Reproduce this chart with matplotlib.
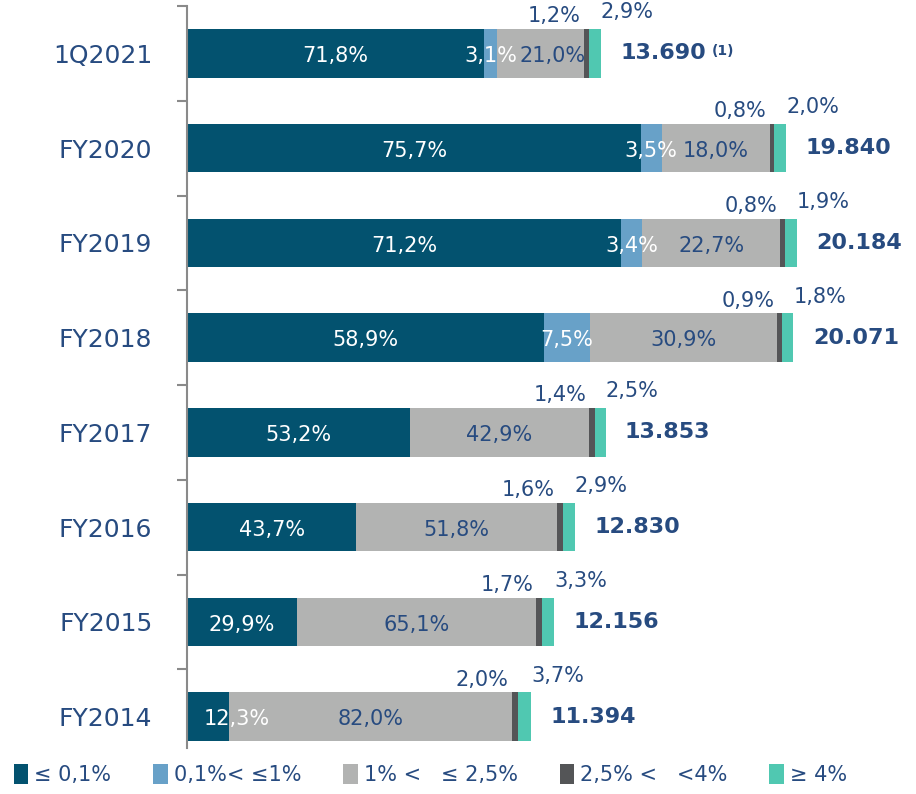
import matplotlib.pyplot as plt
from matplotlib.patches import Patch
import numpy as np

categories = ['1Q2021', 'FY2020', 'FY2019', 'FY2018', 'FY2017', 'FY2016', 'FY2015', 'FY2014']
totals = [13690, 19840, 20184, 20071, 13853, 12830, 12156, 11394]
total_labels = ['13.690', '19.840', '20.184', '20.071', '13.853', '12.830', '12.156', '11.394']

# share of each bucket, in %
le_01 = [71.8, 75.7, 71.2, 58.9, 53.2, 43.7, 29.9, 12.3]
b01_1 = [3.1, 3.5, 3.4, 7.5, 0, 0, 0, 0]
b1_25 = [21.0, 18.0, 22.7, 30.9, 42.9, 51.8, 65.1, 82.0]
b25_4 = [1.2, 0.8, 0.8, 0.9, 1.4, 1.6, 1.7, 2.0]
ge_4 = [2.9, 2.0, 1.9, 1.8, 2.5, 2.9, 3.3, 3.7]

legend_labels = ['≤ 0,1%', '0,1%< ≤1%', '1% <   ≤ 2,5%', '2,5% <   <4%', '≥ 4%']
colors = ['#03526f', '#68a1c8', '#b2b3b2', '#545557', '#50c8b1']
txt_col = '#274b80'

series = [le_01, b01_1, b1_25, b25_4, ge_4]

fig = plt.figure(figsize=(9.16, 7.94), dpi=100)
ax = fig.add_axes([187 / 916, 1 - 764 / 794, 1 - 187 / 916, 758 / 794])

y = np.arange(len(categories))
tot = np.array(totals, dtype=float)
left = np.zeros(len(categories))
bar_h = 0.51

seg_bounds = []
for s, c in zip(series, colors):
    w = tot * np.array(s) / 100
    ax.barh(y, w, left=left, height=bar_h, color=c, edgecolor='none')
    seg_bounds.append((left.copy(), left + w))
    left = left + w

ax.set_xlim(0, 728 / 0.03017)
ax.set_ylim(7.5, -0.5)

def fmt(v):
    return f'{v:.1f}%'.replace('.', ',')

fig.canvas.draw()
for i in range(len(categories)):
    # labels inside the bar
    inner = {}
    for k, col in [(0, 'white'), (1, 'white'), (2, txt_col)]:
        v = series[k][i]
        if v <= 0:
            continue
        l, r = seg_bounds[k][0][i], seg_bounds[k][1][i]
        if k == 0 and r < 2000:
            # first segment too narrow: label starts a bit inside and runs over
            inner[k] = ax.annotate(fmt(v), (l, i + 0.03), xytext=(12, 0), textcoords='offset points',
                                   ha='left', va='center', color=col, fontsize=15)
        else:
            inner[k] = ax.annotate(fmt(v), ((l + r) / 2, i + 0.03), xytext=(0, 0),
                                   textcoords='offset points', ha='center', va='center',
                                   color=col, fontsize=15)
    if 1 in inner:
        # push the grey label right if it runs into the light blue one
        r = fig.canvas.get_renderer()
        gap = inner[1].get_window_extent(r).x1 - inner[2].get_window_extent(r).x0
        if gap > -2:
            inner[2].set_position(((gap + 3) * 72 / fig.dpi, 0))
    top = i - bar_h / 2
    dg_l = seg_bounds[3][0][i]
    te_r = seg_bounds[4][1][i]
    ax.annotate(fmt(b25_4[i]), (dg_l, top), xytext=(-2, 2), textcoords='offset points',
                ha='right', va='bottom', color=txt_col, fontsize=15)
    ax.annotate(fmt(ge_4[i]), (te_r, top), xytext=(0, 5), textcoords='offset points',
                ha='left', va='bottom', color=txt_col, fontsize=15)
    t = ax.annotate(total_labels[i], (te_r, i), xytext=(14, 0), textcoords='offset points',
                    ha='left', va='center', color=txt_col, fontsize=16, fontweight='bold')
    if i == 0:
        fig.canvas.draw()
        bb = t.get_window_extent()
        fig.text((bb.x1 + 6) / fig.bbox.width, (bb.y1 - 1) / fig.bbox.height, '(1)',
                 ha='left', va='top', color=txt_col, fontsize=10, fontweight='bold')

# axis styling
for sp in ['top', 'right', 'bottom']:
    ax.spines[sp].set_visible(False)
ax.spines['left'].set_color('#8a8a8a')
ax.spines['left'].set_linewidth(1.5)
ax.spines['left'].set_bounds(7.33, -0.5)
ax.set_xticks([])
ax.set_yticks(y)
ax.set_yticklabels(categories, fontsize=18, color=txt_col)
ax.tick_params(axis='y', which='major', length=0, pad=25)
ax.set_yticks(np.arange(-0.5, 7, 1), minor=True)
ax.tick_params(axis='y', which='minor', length=7, width=1.5, color='#8a8a8a')

handles = [Patch(facecolor=c, edgecolor='none') for c in colors]
leg = fig.legend(handles, legend_labels, loc='center', bbox_to_anchor=(0.47, 0.024),
                 ncol=5, frameon=False, fontsize=15, handlelength=0.7, handleheight=1.1,
                 handletextpad=0.3, columnspacing=2.0)
for tx in leg.get_texts():
    tx.set_color(txt_col)

fig.savefig('out.png', dpi=100)
